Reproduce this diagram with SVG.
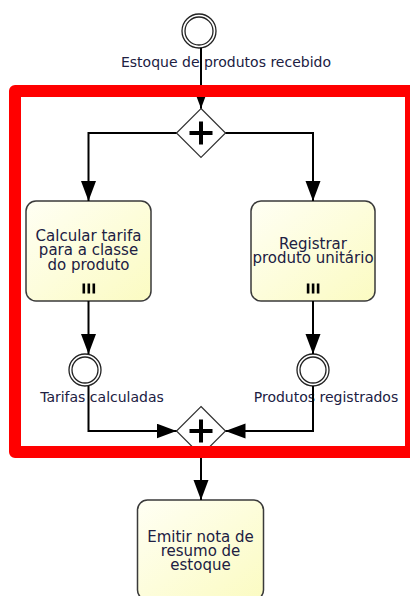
<svg xmlns="http://www.w3.org/2000/svg" width="410" height="596" viewBox="0 0 410 596">
<defs>
<linearGradient id="taskFill" x1="0" y1="0" x2="1" y2="1">
<stop offset="0" stop-color="#fffff4"/>
<stop offset="1" stop-color="#fbfbc2"/>
</linearGradient>
<marker id="arrow" markerUnits="userSpaceOnUse" markerWidth="20" markerHeight="16" refX="20" refY="7.5" orient="auto">
<path d="M0,0 L20,7.5 L0,15 z" fill="#000"/>
</marker>
</defs>
<style>
.task{fill:url(#taskFill);stroke:#3a3a3a;stroke-width:1.5}
.ev{fill:#fff;stroke:#222;stroke-width:1.3}
.evi{fill:none;stroke:#222;stroke-width:1.3}
.gw{fill:#fff;stroke:#333;stroke-width:1.2}
.plus{stroke:#000;stroke-width:4;fill:none}
.mi{fill:#000}
.t{font-family:"DejaVu Sans",Verdana,sans-serif;font-size:15px;fill:#202042;text-anchor:middle}
.lbl{font-family:"DejaVu Sans",Verdana,sans-serif;font-size:14px;fill:#202042;text-anchor:middle}
.conn{fill:none;stroke:#000;stroke-width:2}
</style>

<g id="start">
<circle class="ev" cx="199" cy="31" r="17"/>
<circle class="evi" cx="199" cy="31" r="14"/>
<text class="lbl" x="226" y="67">Estoque de produtos recebido</text>
</g>

<g id="split">
<path class="gw" d="M201,108.5 L225.5,133 L201,157.5 L176.5,133 z"/>
<path class="plus" d="M189.5,133 H212.5 M201,121.5 V144.5"/>
</g>

<g id="taskCalc">
<rect class="task" x="26" y="201" width="125" height="100" rx="10"/>
<text class="t" x="88.5" y="240.5">Calcular tarifa</text>
<text class="t" x="88.5" y="255">para a classe</text>
<text class="t" x="88.5" y="269.5">do produto</text>
<rect class="mi" x="82.5" y="283.5" width="2.6" height="10"/>
<rect class="mi" x="87.5" y="283.5" width="2.6" height="10"/>
<rect class="mi" x="92.5" y="283.5" width="2.6" height="10"/>
</g>

<g id="taskReg">
<rect class="task" x="251" y="201" width="124" height="100" rx="10"/>
<text class="t" x="313" y="248.5">Registrar</text>
<text class="t" x="313" y="263">produto unitário</text>
<rect class="mi" x="306.8" y="283.5" width="2.6" height="10"/>
<rect class="mi" x="311.8" y="283.5" width="2.6" height="10"/>
<rect class="mi" x="316.8" y="283.5" width="2.6" height="10"/>
</g>

<g id="evTarifas">
<circle class="ev" cx="85" cy="370" r="16"/>
<circle class="evi" cx="85" cy="370" r="13"/>
<text class="lbl" x="102" y="402">Tarifas calculadas</text>
</g>

<g id="evProdutos">
<circle class="ev" cx="313" cy="370" r="16"/>
<circle class="evi" cx="313" cy="370" r="13"/>
<text class="lbl" x="326" y="402">Produtos registrados</text>
</g>

<g id="join">
<path class="gw" d="M201,406.5 L225.5,431 L201,455.5 L176.5,431 z"/>
<path class="plus" d="M189.5,431 H212.5 M201,419.5 V442.5"/>
</g>

<g id="taskEmitir">
<rect class="task" x="137.5" y="500" width="126" height="100" rx="10"/>
<text class="t" x="200.5" y="541.5">Emitir nota de</text>
<text class="t" x="200.5" y="555.5">resumo de</text>
<text class="t" x="200.5" y="569.5">estoque</text>
</g>

<g id="connectors">
<path class="conn" d="M201,48 V108.5" marker-end="url(#arrow)"/>
<path class="conn" d="M176.5,133 H88.5 V201" marker-end="url(#arrow)"/>
<path class="conn" d="M225.5,133 H313 V201" marker-end="url(#arrow)"/>
<path class="conn" d="M88.5,301 V354" marker-end="url(#arrow)"/>
<path class="conn" d="M313,301 V354" marker-end="url(#arrow)"/>
<path class="conn" d="M88.5,386 V431 H176.5" marker-end="url(#arrow)"/>
<path class="conn" d="M313,386 V431 H225.5" marker-end="url(#arrow)"/>
<path class="conn" d="M201,455.5 V500" marker-end="url(#arrow)"/>
</g>

<g id="frame">
<rect x="15" y="91" width="396" height="361" fill="none" stroke="#ff0000" stroke-width="12" stroke-linejoin="round"/>
</g>
</svg>
